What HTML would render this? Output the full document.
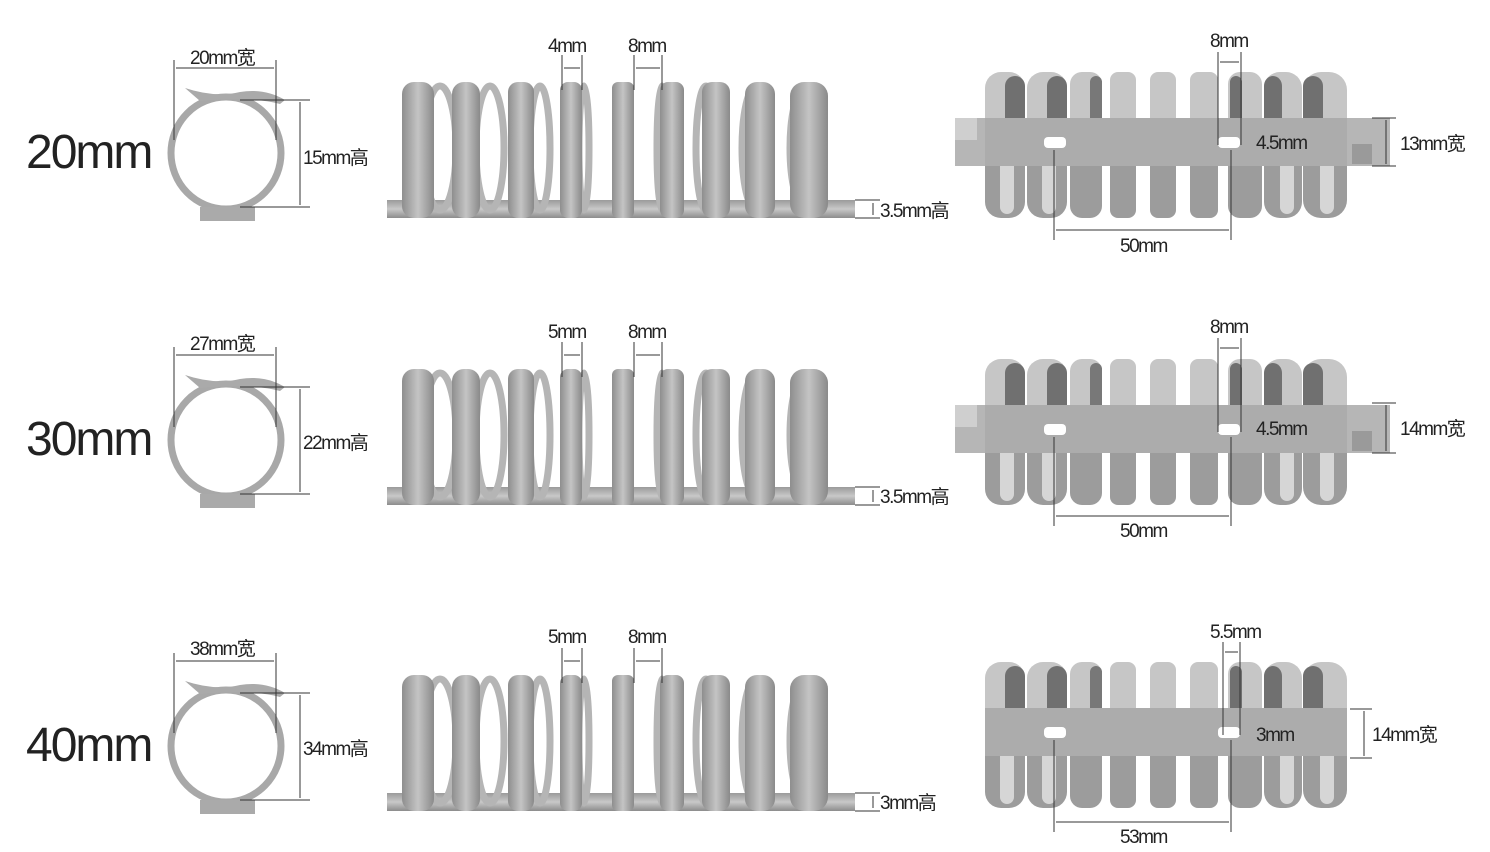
<!DOCTYPE html>
<html><head><meta charset="utf-8">
<style>
html,body{margin:0;padding:0;background:#fff;}
svg{display:block;}
text{font-family:"Liberation Sans","Noto Sans CJK SC",sans-serif;fill:#222;}
.s{font-size:19px;letter-spacing:-1.5px;}
.big{font-size:48px;letter-spacing:-2px;}
.d{stroke:#333;stroke-width:1;fill:none;}
</style></head><body>
<svg width="1490" height="852" viewBox="0 0 1490 852" xmlns="http://www.w3.org/2000/svg">
<defs>
<linearGradient id="band" x1="0" x2="1" y1="0" y2="0">
<stop offset="0" stop-color="#8e8e8e"/><stop offset="0.5" stop-color="#c4c4c4"/><stop offset="1" stop-color="#8a8a8a"/></linearGradient>
<linearGradient id="bandv" x1="0" x2="0" y1="0" y2="1">
<stop offset="0" stop-color="#9a9a9a"/><stop offset="0.5" stop-color="#c8c8c8"/><stop offset="1" stop-color="#8c8c8c"/></linearGradient>
<g id="ring">
<ellipse cx="226" cy="153" rx="55" ry="56" fill="none" stroke="#a8a8a8" stroke-width="7"/>
<path d="M185 88 Q215 98 240 92 Q265 88 285 100 L280 104 Q250 96 200 101 Z" fill="#aaa"/>
<rect x="200" y="207" width="55" height="14" fill="#aaa"/>
</g>
<g id="coil">
<rect x="387" y="200" width="468" height="18" fill="url(#bandv)"/>
<g fill="none" stroke="#b5b5b5" stroke-width="7">
<ellipse cx="440" cy="148" rx="16" ry="62"/><ellipse cx="490" cy="148" rx="14" ry="62"/><ellipse cx="540" cy="148" rx="10" ry="62"/><ellipse cx="584" cy="148" rx="5" ry="62"/><ellipse cx="662" cy="148" rx="5" ry="62"/><ellipse cx="706" cy="148" rx="10" ry="62"/><ellipse cx="756" cy="148" rx="14" ry="62"/><ellipse cx="806" cy="148" rx="16" ry="62"/>
</g>
<g fill="url(#band)">
<rect x="402" y="82" width="32" height="136" rx="12"/>
<rect x="452" y="82" width="28" height="136" rx="12"/>
<rect x="508" y="82" width="26" height="136" rx="10"/>
<rect x="560" y="82" width="22" height="136" rx="8"/>
<rect x="612" y="82" width="22" height="136" rx="6"/>
<rect x="660" y="82" width="24" height="136" rx="8"/>
<rect x="702" y="82" width="28" height="136" rx="10"/>
<rect x="745" y="82" width="30" height="136" rx="12"/>
<rect x="790" y="82" width="38" height="136" rx="14"/>
</g>
</g>
<g id="comb">
<g>
<rect x="985" y="72" width="40" height="70" rx="16" fill="#c6c6c6"/><rect x="1005" y="76" width="20" height="60" rx="10" fill="#707070"/>
<rect x="1027" y="72" width="40" height="70" rx="16" fill="#c6c6c6"/><rect x="1047" y="76" width="20" height="60" rx="10" fill="#707070"/>
<rect x="1070" y="72" width="32" height="70" rx="12" fill="#c6c6c6"/><rect x="1090" y="76" width="12" height="60" rx="6" fill="#787878"/>
<rect x="1110" y="72" width="26" height="70" rx="8" fill="#c6c6c6"/>
<rect x="1150" y="72" width="26" height="70" rx="8" fill="#c6c6c6"/>
<rect x="1190" y="72" width="28" height="70" rx="8" fill="#c6c6c6"/>
<rect x="1228" y="72" width="34" height="70" rx="12" fill="#c6c6c6"/><rect x="1230" y="76" width="12" height="60" rx="6" fill="#707070"/>
<rect x="1264" y="72" width="38" height="70" rx="16" fill="#c6c6c6"/><rect x="1264" y="76" width="18" height="60" rx="10" fill="#707070"/>
<rect x="1303" y="72" width="44" height="70" rx="18" fill="#c6c6c6"/><rect x="1303" y="76" width="20" height="60" rx="10" fill="#707070"/>
</g>
<g>
<rect x="985" y="145" width="40" height="73" rx="16" fill="#9c9c9c"/><rect x="1000" y="150" width="14" height="64" rx="7" fill="#d6d6d6"/>
<rect x="1027" y="145" width="40" height="73" rx="16" fill="#9c9c9c"/><rect x="1042" y="150" width="14" height="64" rx="7" fill="#d6d6d6"/>
<rect x="1070" y="145" width="32" height="73" rx="12" fill="#9c9c9c"/>
<rect x="1110" y="145" width="26" height="73" rx="8" fill="#9c9c9c"/>
<rect x="1150" y="145" width="26" height="73" rx="8" fill="#9c9c9c"/>
<rect x="1190" y="145" width="28" height="73" rx="8" fill="#9c9c9c"/>
<rect x="1228" y="145" width="34" height="73" rx="12" fill="#9c9c9c"/>
<rect x="1264" y="145" width="38" height="73" rx="16" fill="#9c9c9c"/><rect x="1280" y="150" width="14" height="64" rx="7" fill="#d6d6d6"/>
<rect x="1303" y="145" width="44" height="73" rx="18" fill="#9c9c9c"/><rect x="1320" y="150" width="14" height="64" rx="7" fill="#d6d6d6"/>
</g>
<rect x="985" y="118" width="362" height="48" fill="#acacac"/>
<rect x="1044" y="137" width="22" height="11" rx="4" fill="#fff"/>
<rect x="1218" y="137" width="22" height="11" rx="4" fill="#fff"/>
</g>
<g id="tabs">
<rect x="955" y="118" width="30" height="48" fill="#b6b6b6"/><rect x="955" y="118" width="22" height="22" fill="#cfcfcf"/>
<rect x="1347" y="118" width="43" height="48" fill="#b6b6b6"/><rect x="1352" y="144" width="20" height="20" fill="#9a9a9a"/>
</g>
</defs>

<!-- Row 1 -->
<g>
<text class="big" x="26" y="168">20mm</text>
<use href="#ring"/>
<line class="d" x1="174" y1="60" x2="174" y2="140"/><line class="d" x1="276" y1="60" x2="276" y2="140"/><line class="d" x1="176" y1="68" x2="274" y2="68"/>
<text class="s" x="190" y="64">20mm宽</text>
<line class="d" x1="240" y1="100" x2="310" y2="100"/><line class="d" x1="240" y1="207" x2="310" y2="207"/><line class="d" x1="300" y1="102" x2="300" y2="205"/>
<text class="s" x="303" y="164">15mm高</text>
<use href="#coil"/>
<line class="d" x1="562" y1="55" x2="562" y2="90"/><line class="d" x1="582" y1="55" x2="582" y2="90"/><line class="d" x1="564" y1="68" x2="580" y2="68"/>
<text class="s" x="548" y="52">4mm</text>
<line class="d" x1="634" y1="55" x2="634" y2="90"/><line class="d" x1="662" y1="55" x2="662" y2="90"/><line class="d" x1="636" y1="68" x2="660" y2="68"/>
<text class="s" x="628" y="52">8mm</text>
<line class="d" x1="855" y1="200" x2="880" y2="200"/><line class="d" x1="855" y1="218" x2="880" y2="218"/><line class="d" x1="873" y1="203" x2="873" y2="215"/>
<text class="s" x="880" y="217">3.5mm高</text>
<use href="#tabs"/><use href="#comb"/>
<line class="d" x1="1218" y1="52" x2="1218" y2="145"/><line class="d" x1="1241" y1="52" x2="1241" y2="145"/><line class="d" x1="1220" y1="62" x2="1239" y2="62"/>
<text class="s" x="1210" y="47">8mm</text>
<text class="s" x="1256" y="149">4.5mm</text>
<line class="d" x1="1054" y1="150" x2="1054" y2="240"/><line class="d" x1="1231" y1="150" x2="1231" y2="240"/><line class="d" x1="1056" y1="230" x2="1229" y2="230"/>
<text class="s" x="1120" y="252">50mm</text>
<line class="d" x1="1372" y1="118" x2="1396" y2="118"/><line class="d" x1="1372" y1="166" x2="1396" y2="166"/><line class="d" x1="1386" y1="120" x2="1386" y2="164"/>
<text class="s" x="1400" y="150">13mm宽</text>
</g>

<!-- Row 2 -->
<g>
<text class="big" x="26" y="455">30mm</text>
<g transform="translate(0,287)"><use href="#ring"/><use href="#coil"/><use href="#tabs"/><use href="#comb"/></g>
<line class="d" x1="174" y1="347" x2="174" y2="427"/><line class="d" x1="276" y1="347" x2="276" y2="427"/><line class="d" x1="176" y1="355" x2="274" y2="355"/>
<text class="s" x="190" y="350">27mm宽</text>
<line class="d" x1="240" y1="387" x2="310" y2="387"/><line class="d" x1="240" y1="494" x2="310" y2="494"/><line class="d" x1="300" y1="389" x2="300" y2="492"/>
<text class="s" x="303" y="449">22mm高</text>
<line class="d" x1="562" y1="342" x2="562" y2="377"/><line class="d" x1="582" y1="342" x2="582" y2="377"/><line class="d" x1="564" y1="355" x2="580" y2="355"/>
<text class="s" x="548" y="338">5mm</text>
<line class="d" x1="634" y1="342" x2="634" y2="377"/><line class="d" x1="662" y1="342" x2="662" y2="377"/><line class="d" x1="636" y1="355" x2="660" y2="355"/>
<text class="s" x="628" y="338">8mm</text>
<line class="d" x1="855" y1="487" x2="880" y2="487"/><line class="d" x1="855" y1="505" x2="880" y2="505"/><line class="d" x1="873" y1="490" x2="873" y2="502"/>
<text class="s" x="880" y="503">3.5mm高</text>
<line class="d" x1="1218" y1="338" x2="1218" y2="432"/><line class="d" x1="1241" y1="338" x2="1241" y2="432"/><line class="d" x1="1220" y1="348" x2="1239" y2="348"/>
<text class="s" x="1210" y="333">8mm</text>
<text class="s" x="1256" y="435">4.5mm</text>
<line class="d" x1="1054" y1="437" x2="1054" y2="526"/><line class="d" x1="1231" y1="437" x2="1231" y2="526"/><line class="d" x1="1056" y1="516" x2="1229" y2="516"/>
<text class="s" x="1120" y="537">50mm</text>
<line class="d" x1="1372" y1="403" x2="1396" y2="403"/><line class="d" x1="1372" y1="453" x2="1396" y2="453"/><line class="d" x1="1386" y1="405" x2="1386" y2="451"/>
<text class="s" x="1400" y="435">14mm宽</text>
</g>

<!-- Row 3 -->
<g>
<text class="big" x="26" y="761">40mm</text>
<g transform="translate(0,593)"><use href="#ring"/><use href="#coil"/></g>
<g transform="translate(0,590)"><use href="#comb"/></g>
<line class="d" x1="174" y1="653" x2="174" y2="733"/><line class="d" x1="276" y1="653" x2="276" y2="733"/><line class="d" x1="176" y1="661" x2="274" y2="661"/>
<text class="s" x="190" y="655">38mm宽</text>
<line class="d" x1="240" y1="693" x2="310" y2="693"/><line class="d" x1="240" y1="800" x2="310" y2="800"/><line class="d" x1="300" y1="695" x2="300" y2="798"/>
<text class="s" x="303" y="755">34mm高</text>
<line class="d" x1="562" y1="648" x2="562" y2="683"/><line class="d" x1="582" y1="648" x2="582" y2="683"/><line class="d" x1="564" y1="661" x2="580" y2="661"/>
<text class="s" x="548" y="643">5mm</text>
<line class="d" x1="634" y1="648" x2="634" y2="683"/><line class="d" x1="662" y1="648" x2="662" y2="683"/><line class="d" x1="636" y1="661" x2="660" y2="661"/>
<text class="s" x="628" y="643">8mm</text>
<line class="d" x1="855" y1="793" x2="880" y2="793"/><line class="d" x1="855" y1="811" x2="880" y2="811"/><line class="d" x1="873" y1="796" x2="873" y2="808"/>
<text class="s" x="880" y="809">3mm高</text>
<line class="d" x1="1223" y1="642" x2="1223" y2="735"/><line class="d" x1="1240" y1="642" x2="1240" y2="735"/><line class="d" x1="1225" y1="652" x2="1238" y2="652"/>
<text class="s" x="1210" y="638">5.5mm</text>
<text class="s" x="1256" y="741">3mm</text>
<line class="d" x1="1054" y1="740" x2="1054" y2="832"/><line class="d" x1="1231" y1="740" x2="1231" y2="832"/><line class="d" x1="1056" y1="822" x2="1229" y2="822"/>
<text class="s" x="1120" y="843">53mm</text>
<line class="d" x1="1350" y1="709" x2="1372" y2="709"/><line class="d" x1="1350" y1="758" x2="1372" y2="758"/><line class="d" x1="1364" y1="711" x2="1364" y2="756"/>
<text class="s" x="1372" y="741">14mm宽</text>
</g>
</svg>
</body></html>
